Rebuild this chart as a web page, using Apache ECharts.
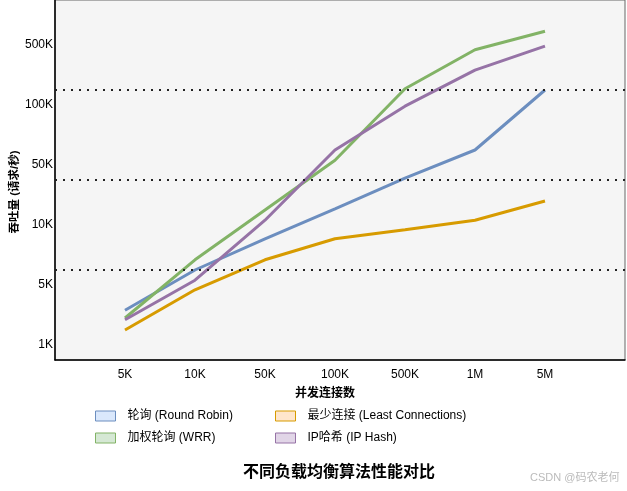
<!DOCTYPE html>
<html><head><meta charset="utf-8">
<script src="https://cdn.jsdelivr.net/npm/echarts@6/dist/echarts.min.js"></script>
<style>html,body{margin:0;padding:0;background:#fff}#c{width:627px;height:491px}</style>
</head><body><div id="c"></div>
<script>
// categories (x) and tick labels (y, evenly spaced positions 0..5)
const categories = ['5K','10K','50K','100K','500K','1M','5M'];
const yTickLabels = ['1K','5K','10K','50K','100K','500K'];
// series values expressed on the evenly spaced y-tick scale (0 = 1K, 1 = 5K, ...)
const roundRobin = [0.58, 1.25, 1.77, 2.27, 2.78, 3.25, 4.25];
const wrr        = [0.45, 1.42, 2.25, 3.08, 4.27, 4.92, 5.23];
const leastConn  = [0.25, 0.92, 1.42, 1.77, 1.92, 2.08, 2.40];
const ipHash     = [0.42, 1.08, 2.08, 3.25, 3.98, 4.58, 4.98];
const refLines   = [1.25, 2.75, 4.25];
const seriesNames = ['轮询 (Round Robin)','加权轮询 (WRR)','最少连接 (Least Connections)','IP哈希 (IP Hash)'];
const lineColors = ['#6c8ebf','#82b366','#d79b00','#9673a6'];
const fillColors = ['#dae8fc','#d5e8d4','#ffe6cc','#e1d5e7'];
const allData = [roundRobin, wrr, leastConn, ipHash];

const FONT = "'Liberation Sans','Noto Sans CJK SC',sans-serif";
const chart = echarts.init(document.getElementById('c'));
const series = allData.map((arr, i) => ({
  name: seriesNames[i], type: 'line', symbol: 'none',
  data: arr.map((v, j) => [j + 1, v]),
  lineStyle: {color: lineColors[i], width: 3},
  itemStyle: {color: fillColors[i], borderColor: lineColors[i], borderWidth: 1},
  z: 3
}));
series.push({
  type: 'line', data: [], silent: true,
  markLine: {symbol: 'none', silent: true, label: {show: false},
    lineStyle: {color: '#222', type: [2, 6], width: 2},
    data: refLines.map(v => ({yAxis: v}))}
});
const legendItem = i => ({name: seriesNames[i], icon: 'rect',
  itemStyle: {color: fillColors[i], borderColor: lineColors[i], borderWidth: 1}});
const legendCommon = {orient: 'vertical', itemWidth: 20, itemHeight: 10, itemGap: 10, padding: 0,
  textStyle: {fontFamily: FONT, fontSize: 12, color: '#000', padding: [0, 0, 0, 7]}};
chart.setOption({
  animation: false,
  grid: {left: 55, top: 0, right: 2, bottom: 131, outerBoundsMode: 'none', containLabel: false,
    show: true, backgroundColor: '#f5f5f5', borderColor: '#666', borderWidth: 1},
  xAxis: {type: 'value', min: 0, max: 8.143, interval: 1,
    axisLine: {show: true, onZero: false, lineStyle: {color: '#000', width: 1.5}}, axisTick: {show: false}, splitLine: {show: false},
    axisLabel: {fontFamily: FONT, fontSize: 12, color: '#000', margin: 9,
      formatter: v => (Number.isInteger(v) && v >= 1 && v <= categories.length) ? categories[v - 1] : ''}},
  yAxis: {type: 'value', min: -0.25, max: 5.75, interval: 0.25,
    axisLine: {show: true, onZero: false, lineStyle: {color: '#000', width: 1.5}}, axisTick: {show: false}, splitLine: {show: false},
    axisLabel: {fontFamily: FONT, fontSize: 12, color: '#000', margin: 2, showMinLabel: true, showMaxLabel: true,
      formatter: v => (Math.abs(v - Math.round(v)) < 1e-6 && v >= 0 && v < yTickLabels.length) ? yTickLabels[Math.round(v)] : ''}},
  legend: [
    Object.assign({left: 95, top: 410, data: [legendItem(0), legendItem(1)]}, legendCommon),
    Object.assign({left: 275, top: 410, data: [legendItem(2), legendItem(3)]}, legendCommon)
  ],
  graphic: [
    {type: 'text', x: 15, y: 192, rotation: Math.PI / 2,
      style: {text: '吞吐量 (请求/秒)', font: "bold 11.5px " + FONT, fill: '#000', align: 'center', verticalAlign: 'middle'}},
    {type: 'text', x: 325, y: 394,
      style: {text: '并发连接数', font: "bold 12px " + FONT, fill: '#000', align: 'center', verticalAlign: 'middle'}},
    {type: 'text', left: 243, top: 465, style: {text: '不同负载均衡算法性能对比', font: "bold 16px " + FONT, fill: '#000'}},
    {type: 'text', left: 530, top: 472, style: {text: 'CSDN @码农老何', font: "11px " + FONT, fill: '#bbb'}}
  ],
  series: series
});
</script></body></html>
